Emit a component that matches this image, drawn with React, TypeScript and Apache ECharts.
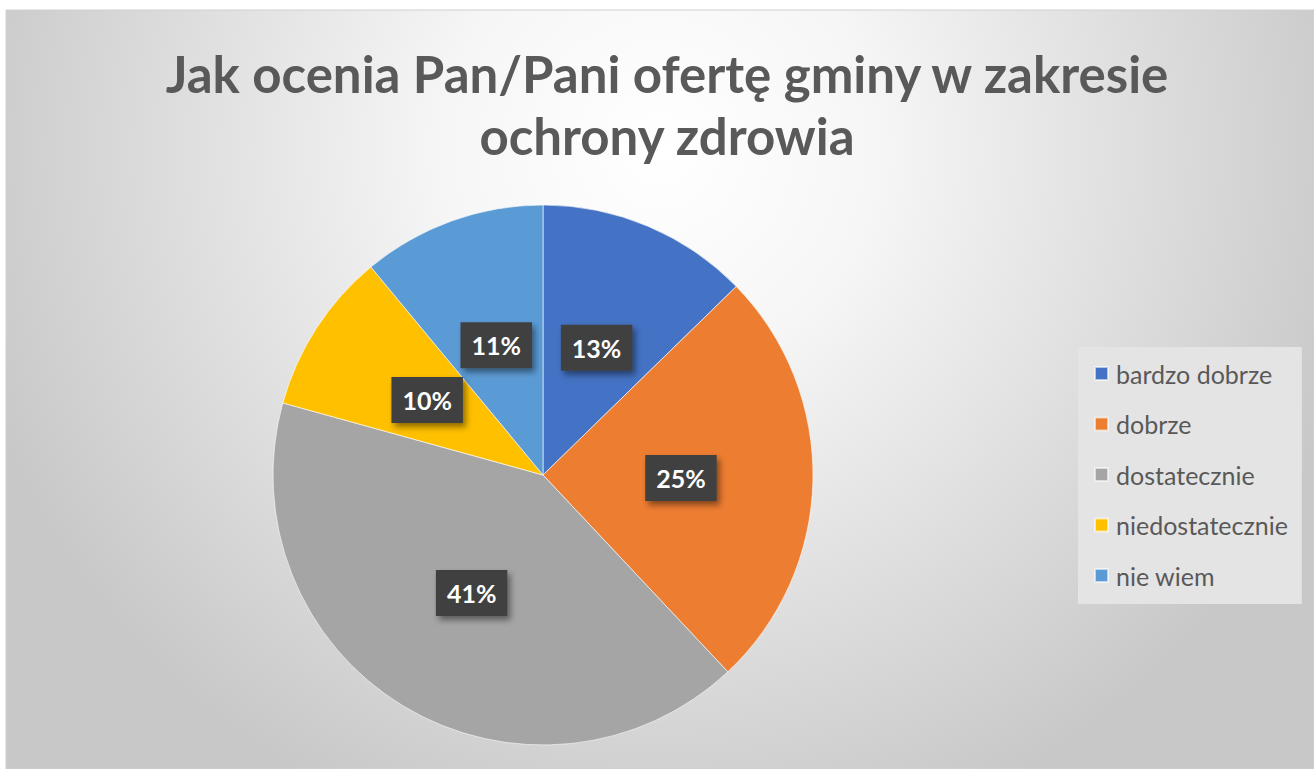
import React, { useEffect, useRef } from "react";
import * as echarts from "echarts";

const titleLines = ["Jak ocenia Pan/Pani ofertę gminy w zakresie", "ochrony zdrowia"];
const categories = ["bardzo dobrze", "dobrze", "dostatecznie", "niedostatecznie", "nie wiem"];
const values = [12.7, 25.3, 41.3, 9.7, 11.0];
const colors = ["#4472C4", "#ED7D31", "#A5A5A5", "#FFC000", "#5B9BD5"];

export default function App() {
  const ref = useRef<HTMLDivElement>(null);
  useEffect(() => {
    if (!ref.current) return;
    const chart = echarts.init(ref.current, null, { renderer: "svg" });
    chart.setOption({
      animation: false,
      graphic: [
        {
          type: "rect",
          z: -10,
          silent: true,
          shape: { x: 6, y: 10, width: 1308, height: 759 },
          style: {
            fill: new echarts.graphic.RadialGradient(
              660,
              150,
              720,
              [
                { offset: 0, color: "#ffffff" },
                { offset: 0.3, color: "#f6f6f6" },
                { offset: 1, color: "#c8c8c8" },
              ],
              true
            ),
            stroke: "#d0d0d0",
            lineWidth: 1,
          },
        },
      ],
      title: {
        text: titleLines.join("\n"),
        left: 662,
        textAlign: "center",
        top: 37,
        textStyle: {
          fontFamily: "Lato",
          fontWeight: "bold",
          fontSize: 51,
          lineHeight: 62,
          color: "#595959",
        },
      },
      legend: {
        orient: "vertical",
        left: 1078,
        top: 347,
        width: 225,
        backgroundColor: "#e4e4e4",
        padding: [14, 14, 16, 16],
        itemGap: 25.5,
        itemWidth: 13,
        itemHeight: 13,
        icon: "rect",
        data: categories,
        textStyle: { fontFamily: "Lato", fontSize: 25, color: "#595959", padding: [0, 0, 0, 3] },
      },
      series: [
        {
          type: "pie",
          center: [543, 475],
          radius: 270,
          startAngle: 90,
          clockwise: true,
          data: categories.map((c, i) => ({ name: c, value: values[i], itemStyle: { color: colors[i] } })),
          itemStyle: { borderColor: "rgba(255,255,255,0.6)", borderWidth: 1 },
          label: {
            show: true,
            position: "inside",
            formatter: (p: any) => Math.round(p.percent) + "%",
            fontFamily: "Lato",
            fontWeight: "bold",
            fontSize: 25,
            color: "#ffffff",
            backgroundColor: "#404040",
            padding: [11, 11, 10, 11],
            shadowColor: "rgba(0,0,0,0.45)",
            shadowBlur: 6,
            shadowOffsetX: 3,
            shadowOffsetY: 4,
          },
          labelLine: { show: false },
          emphasis: { disabled: true },
        },
      ],
    });
    return () => chart.dispose();
  }, []);
  return (
    <div
      ref={ref}
      style={{ position: "fixed", left: 0, top: 0, width: 1314, height: 769, background: "#ffffff" }}
    />
  );
}
